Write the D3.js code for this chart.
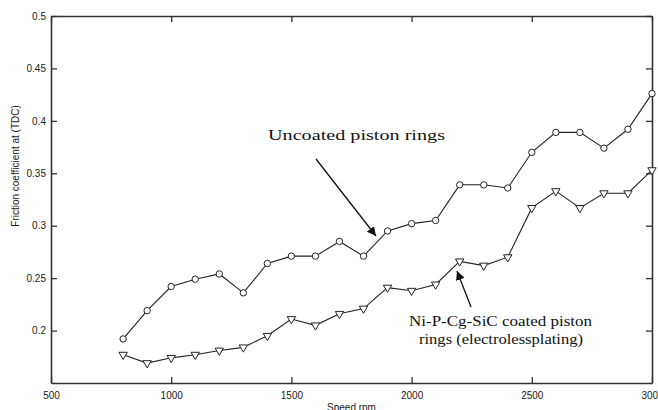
<!DOCTYPE html>
<html>
<head>
<meta charset="utf-8">
<script src="https://cdn.jsdelivr.net/npm/d3@7"></script>
<style>
  body { margin: 0; background: #fff; }
  svg { display: block; }
</style>
</head>
<body>
<svg id="chart"></svg>
<script>
const width = 658
const height = 410

// speed in rpm
const speeds = [800, 900, 1000, 1100, 1200, 1300, 1400, 1500, 1600, 1700, 1800, 1900,
  2000, 2100, 2200, 2300, 2400, 2500, 2600, 2700, 2800, 2900, 3000]
// friction coefficient, uncoated rings (circles)
const uncoated = [0.192, 0.219, 0.242, 0.249, 0.254, 0.236, 0.264, 0.271, 0.271, 0.285, 0.271, 0.295,
  0.302, 0.305, 0.339, 0.339, 0.336, 0.370, 0.389, 0.389, 0.374, 0.392, 0.426]
// friction coefficient, Ni-P-Cg-SiC coated rings (triangles)
const coated = [0.177, 0.169, 0.174, 0.177, 0.181, 0.184, 0.195, 0.211, 0.205, 0.216, 0.221, 0.241,
  0.238, 0.244, 0.266, 0.262, 0.270, 0.317, 0.333, 0.317, 0.331, 0.331, 0.353]

const xTicks = [500, 1000, 1500, 2000, 2500, 3000]
const yTicks = [0.2, 0.25, 0.3, 0.35, 0.4, 0.45, 0.5]

const margin = { top: 16, right: 6, bottom: 27, left: 51 }

const svg = d3.select("#chart").attr("width", width).attr("height", height)

const x = d3.scaleLinear().domain([500, 3000]).range([margin.left, width - margin.right])
const y = d3.scaleLinear().domain([0.15, 0.5]).range([height - margin.bottom, margin.top])

const axisColor = "#333"

function styleAxis(g) {
  g.select(".domain").attr("stroke", axisColor).attr("stroke-width", 1.6)
  g.selectAll(".tick line").attr("stroke", axisColor).attr("stroke-width", 1.3)
  g.selectAll(".tick text")
    .attr("fill", "#222")
    .style("font-family", "'Liberation Sans', Arial, sans-serif")
    .style("font-size", "10px")
}

svg.append("g")
  .attr("transform", `translate(0,${y(0.15)})`)
  .call(d3.axisBottom(x).tickValues(xTicks).tickFormat(d3.format("d")).tickSizeInner(-6).tickSizeOuter(0).tickPadding(9))
  .call(styleAxis)

svg.append("g")
  .attr("transform", `translate(0,${y(0.5)})`)
  .call(d3.axisTop(x).tickValues(xTicks).tickFormat("").tickSizeInner(-6).tickSizeOuter(0))
  .call(styleAxis)

svg.append("g")
  .attr("transform", `translate(${x(500)},0)`)
  .call(d3.axisLeft(y).tickValues(yTicks).tickFormat(d3.format("")).tickSizeInner(-6).tickSizeOuter(0).tickPadding(5))
  .call(styleAxis)

svg.append("g")
  .attr("transform", `translate(${x(3000)},0)`)
  .call(d3.axisRight(y).tickValues(yTicks).tickFormat("").tickSizeInner(-6).tickSizeOuter(0))
  .call(styleAxis)

// axis titles
svg.append("text")
  .attr("x", (x(500) + x(3000)) / 2)
  .attr("y", 411)
  .attr("text-anchor", "middle")
  .attr("fill", "#222")
  .style("font-family", "'Liberation Sans', Arial, sans-serif")
  .style("font-size", "10px")
  .text("Speed rpm")

svg.append("text")
  .attr("transform", `translate(19,${166}) rotate(-90)`)
  .attr("text-anchor", "middle")
  .attr("fill", "#222")
  .style("font-family", "'Liberation Sans', Arial, sans-serif")
  .style("font-size", "10px")
  .text("Friction coefficient at (TDC)")

// series
const line = d3.line().x((d) => x(d[0])).y((d) => y(d[1]))
const upData = speeds.map((s, i) => [s, uncoated[i]])
const coData = speeds.map((s, i) => [s, coated[i]])

svg.append("path").datum(upData).attr("d", line)
  .attr("fill", "none").attr("stroke", "#222").attr("stroke-width", 1.1)
svg.append("path").datum(coData).attr("d", line)
  .attr("fill", "none").attr("stroke", "#222").attr("stroke-width", 1.1)

svg.selectAll("circle.up").data(upData).join("circle")
  .attr("class", "up")
  .attr("cx", (d) => x(d[0])).attr("cy", (d) => y(d[1])).attr("r", 3.2)
  .attr("fill", "#fff").attr("stroke", "#222").attr("stroke-width", 1)

const tri = d3.symbol().type(d3.symbolTriangle).size(30)
svg.selectAll("path.co").data(coData).join("path")
  .attr("class", "co")
  .attr("d", tri)
  .attr("transform", (d) => `translate(${x(d[0])},${y(d[1])}) rotate(180)`)
  .attr("fill", "#fff").attr("stroke", "#222").attr("stroke-width", 1)

// annotations
svg.append("defs").append("marker")
  .attr("id", "head")
  .attr("viewBox", "0 0 10 10")
  .attr("refX", 10).attr("refY", 5)
  .attr("markerWidth", 9).attr("markerHeight", 9)
  .attr("markerUnits", "userSpaceOnUse")
  .attr("orient", "auto")
  .append("path").attr("d", "M0,0L10,5L0,10Z").attr("fill", "#111")

const serif = "'Liberation Serif', 'Times New Roman', serif"

svg.append("text")
  .attr("x", 268).attr("y", 140)
  .attr("textLength", 177).attr("lengthAdjust", "spacingAndGlyphs")
  .style("font-family", serif).style("font-size", "15px").attr("fill", "#111")
  .text("Uncoated piston rings")

svg.append("line")
  .attr("x1", 316).attr("y1", 159).attr("x2", 376).attr("y2", 236)
  .attr("stroke", "#111").attr("stroke-width", 1.3)
  .attr("marker-end", "url(#head)")

svg.append("text")
  .attr("x", 409).attr("y", 326)
  .attr("textLength", 183).attr("lengthAdjust", "spacingAndGlyphs")
  .style("font-family", serif).style("font-size", "15px").attr("fill", "#111")
  .text("Ni-P-Cg-SiC coated piston")

svg.append("text")
  .attr("x", 419).attr("y", 344)
  .attr("textLength", 164).attr("lengthAdjust", "spacingAndGlyphs")
  .style("font-family", serif).style("font-size", "15px").attr("fill", "#111")
  .text("rings (electrolessplating)")

svg.append("line")
  .attr("x1", 471).attr("y1", 307).attr("x2", 457).attr("y2", 271)
  .attr("stroke", "#111").attr("stroke-width", 1.3)
  .attr("marker-end", "url(#head)")
</script>
</body>
</html>
